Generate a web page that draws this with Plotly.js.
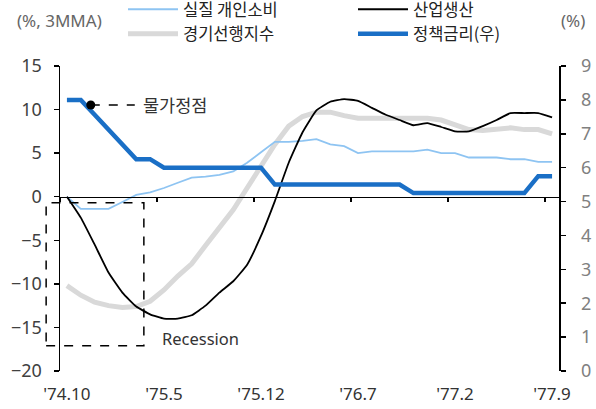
<!DOCTYPE html>
<html>
<head>
<meta charset="utf-8">
<script src="https://cdn.plot.ly/plotly-3.0.1.min.js"></script>
<style>
  html, body { margin: 0; padding: 0; background: #ffffff; }
  #chart { width: 596px; height: 409px; }
</style>
</head>
<body>
<div id="chart"></div>
<script>
// Monthly observations, Oct 1974 - Sep 1977
const months = [
  "'74.10", "'74.11", "'74.12",
  "'75.1", "'75.2", "'75.3", "'75.4", "'75.5", "'75.6", "'75.7", "'75.8", "'75.9", "'75.10", "'75.11", "'75.12",
  "'76.1", "'76.2", "'76.3", "'76.4", "'76.5", "'76.6", "'76.7", "'76.8", "'76.9", "'76.10", "'76.11", "'76.12",
  "'77.1", "'77.2", "'77.3", "'77.4", "'77.5", "'77.6", "'77.7", "'77.8", "'77.9"
];

// Real personal consumption, % YoY (3MMA)
const consumption = [
  0.0, -1.4, -1.4, -1.4, -0.6, 0.2, 0.5, 1.0, 1.6, 2.2, 2.3, 2.5,
  2.9, 3.9, 5.1, 6.3, 6.3, 6.4, 6.6, 6.0, 5.8, 5.0, 5.2, 5.2,
  5.2, 5.2, 5.4, 5.0, 5.0, 4.5, 4.5, 4.5, 4.3, 4.3, 4.0, 4.0
];

// Industrial production, % YoY (3MMA)
const production = [
  0.0, -2.4, -5.5, -8.7, -11.0, -12.6, -13.5, -14.0, -14.0, -13.6, -12.5, -11.0,
  -9.7, -7.8, -4.5, -0.5, 3.9, 7.4, 9.9, 10.9, 11.2, 11.0, 10.2, 9.4,
  8.8, 8.2, 8.45, 8.0, 7.5, 7.5, 8.1, 8.8, 9.6, 9.6, 9.6, 9.1
];

// Leading economic index, % YoY (3MMA)
const leading = [
  -10.2, -11.3, -12.1, -12.5, -12.7, -12.6, -12.0, -10.7, -9.1, -7.7, -5.6, -3.6,
  -1.5, 1.0, 3.5, 6.0, 8.1, 9.2, 9.7, 9.7, 9.3, 9.0, 9.0, 9.0,
  9.0, 9.0, 9.0, 8.8, 8.2, 7.7, 7.6, 7.8, 7.9, 7.7, 7.7, 7.2
];

// Policy rate, % (right axis)
const policyRate = [
  8.0, 8.0, 7.56, 7.13, 6.69, 6.25, 6.25, 6.0, 6.0, 6.0, 6.0, 6.0,
  6.0, 6.0, 6.0, 5.5, 5.5, 5.5, 5.5, 5.5, 5.5, 5.5, 5.5, 5.5,
  5.5, 5.25, 5.25, 5.25, 5.25, 5.25, 5.25, 5.25, 5.25, 5.25, 5.75, 5.75
];

const tickLabels = ["'74.10", "'75.5", "'75.12", "'76.7", "'77.2", "'77.9"];

// Recession window (category positions) and its vertical span on the left axis
const recessionSpan = [-1.5, 5.55];
const recessionDepth = [-0.7, -17.1];

// Inflation peak marker on the policy-rate line
const inflationPeak = { x: 1.72, y: 7.85 };

const leftRange = [-20, 15];
const rightRange = [0, 9];

const latin = "Noto Sans, 'Noto Sans CJK KR', sans-serif";
const hangul = "'Noto Sans CJK KR', 'Noto Sans', sans-serif";

const traces = [
  {
    name: '경기선행지수', x: months, y: leading, type: 'scatter', mode: 'lines',
    line: { color: '#d9d9d9', width: 5 }, legendrank: 3, xaxis: 'x', yaxis: 'y'
  },
  {
    name: '실질 개인소비', x: months, y: consumption, type: 'scatter', mode: 'lines',
    line: { color: '#8ec4f2', width: 1.8 }, legendrank: 1, xaxis: 'x', yaxis: 'y'
  },
  {
    name: '산업생산', x: months, y: production, type: 'scatter', mode: 'lines',
    line: { color: '#000000', width: 1.8, shape: 'spline', smoothing: 0.4 }, legendrank: 2, xaxis: 'x', yaxis: 'y'
  },
  {
    name: '정책금리(우)', x: months, y: policyRate, type: 'scatter', mode: 'lines',
    line: { color: '#1a6fc6', width: 4.5 }, legendrank: 4, xaxis: 'x', yaxis: 'y2'
  },
  // carrier for the zero-line axis with boundary ticks
  { x: [], y: [], type: 'scatter', mode: 'lines', xaxis: 'x2', yaxis: 'y', showlegend: false, hoverinfo: 'skip' }
];

const margin = { l: 60, r: 37, t: 66, b: 38 };
const plotW = 596 - margin.l - margin.r;
const plotH = 409 - margin.t - margin.b;

// helpers converting axis values into paper fractions (for decorations outside the plot box)
const catToPaper = c => (c + 0.5) / months.length;
const leftToPaper = v => (v - leftRange[0]) / (leftRange[1] - leftRange[0]);
const pxToPaperX = px => px / plotW;
const pxToPaperY = px => px / plotH;

const boundaryTicks = tickLabels.map(l => months.indexOf(l) - 0.5);

const layout = {
  width: 596, height: 409,
  margin: Object.assign({ autoexpand: false }, margin),
  paper_bgcolor: '#ffffff', plot_bgcolor: 'rgba(0,0,0,0)',
  showlegend: true,
  font: { family: latin, size: 17, color: '#333333' },
  xaxis: {
    type: 'category', range: [-0.5, months.length - 0.5],
    tickmode: 'array', tickvals: tickLabels, ticktext: tickLabels,
    showline: false, ticks: '', showgrid: false, zeroline: false,
    tickfont: { family: latin, size: 17, color: '#333333' },
    ticklabelstandoff: 11
  },
  xaxis2: {
    type: 'linear', overlaying: 'x', anchor: 'free',
    position: leftToPaper(0),
    range: [-0.5, months.length - 0.5],
    tickmode: 'array', tickvals: boundaryTicks, ticks: 'outside', ticklen: 4, tickwidth: 1.5, tickcolor: '#000',
    showticklabels: false, showline: true, linecolor: '#000', linewidth: 1.5,
    showgrid: false, zeroline: false
  },
  yaxis: {
    range: leftRange, dtick: 5, tick0: 0,
    ticks: 'outside', ticklen: 5, tickwidth: 1.5, tickcolor: '#000',
    showline: true, linecolor: '#000', linewidth: 1.5,
    showgrid: false, zeroline: false,
    ticksuffix: '\u2009',
    tickfont: { family: latin, size: 18, color: '#404040' },
    ticklabelstandoff: 5
  },
  yaxis2: {
    range: rightRange, dtick: 1, tick0: 0, overlaying: 'y', side: 'right', anchor: 'x',
    ticks: 'outside', ticklen: 5, tickwidth: 1.5, tickcolor: '#000',
    showline: true, linecolor: '#000', linewidth: 1.5,
    showgrid: false, zeroline: false,
    tickfont: { family: latin, size: 18, color: '#808080' },
    ticklabelstandoff: 12
  },
  legend: {
    orientation: 'h',
    x: pxToPaperX(63), xanchor: 'left',
    y: 1 + pxToPaperY(margin.t + 8), yanchor: 'top',
    entrywidth: 165, entrywidthmode: 'pixels',
    itemwidth: 50,
    font: { family: hangul, size: 16.5, color: '#222222' },
    bgcolor: 'rgba(0,0,0,0)', borderwidth: 0,
    traceorder: 'normal'
  },
  shapes: [
    // recession box
    {
      type: 'rect', xref: 'paper', yref: 'paper',
      x0: catToPaper(recessionSpan[0]), x1: catToPaper(recessionSpan[1]),
      y0: leftToPaper(recessionDepth[1]), y1: leftToPaper(recessionDepth[0]),
      line: { color: '#000', width: 1.5, dash: 'dash' }, fillcolor: 'rgba(0,0,0,0)'
    },
    // leader from the inflation-peak marker
    {
      type: 'line', xref: 'x', yref: 'y2', xsizemode: 'pixel', ysizemode: 'pixel',
      xanchor: inflationPeak.x, yanchor: inflationPeak.y,
      x0: 0, x1: 44, y0: 0, y1: 0,
      line: { color: '#000', width: 1.5, dash: 'dash' }
    },
    {
      type: 'circle', xref: 'x', yref: 'y2', xsizemode: 'pixel', ysizemode: 'pixel',
      xanchor: inflationPeak.x, yanchor: inflationPeak.y,
      x0: -4.5, x1: 4.5, y0: -4.5, y1: 4.5,
      line: { color: '#000', width: 0 }, fillcolor: '#000'
    }
  ],
  annotations: [
    {
      text: '(%, 3MMA)', xref: 'paper', yref: 'paper',
      x: pxToPaperX(15 - margin.l), y: 1 + pxToPaperY(margin.t - 20),
      xanchor: 'left', yanchor: 'middle', showarrow: false,
      font: { family: latin, size: 17, color: '#666666' }
    },
    {
      text: '(%)', xref: 'paper', yref: 'paper',
      x: pxToPaperX(587 - margin.l), y: 1 + pxToPaperY(margin.t - 20),
      xanchor: 'right', yanchor: 'middle', showarrow: false,
      font: { family: latin, size: 17, color: '#666666' }
    },
    {
      text: '물가정점', xref: 'x', yref: 'y2',
      x: inflationPeak.x, y: inflationPeak.y, xshift: 50,
      xanchor: 'left', yanchor: 'middle', showarrow: false,
      font: { family: hangul, size: 17.5, color: '#333333' }
    },
    {
      text: 'Recession', xref: 'paper', yref: 'paper',
      x: catToPaper(recessionSpan[1]) + pxToPaperX(16), y: leftToPaper(recessionDepth[1]) + pxToPaperY(7),
      xanchor: 'left', yanchor: 'middle', showarrow: false,
      font: { family: latin, size: 16.5, color: '#333333' }
    }
  ]
};

Plotly.newPlot('chart', traces, layout, { staticPlot: true, displayModeBar: false });
</script>
</body>
</html>
